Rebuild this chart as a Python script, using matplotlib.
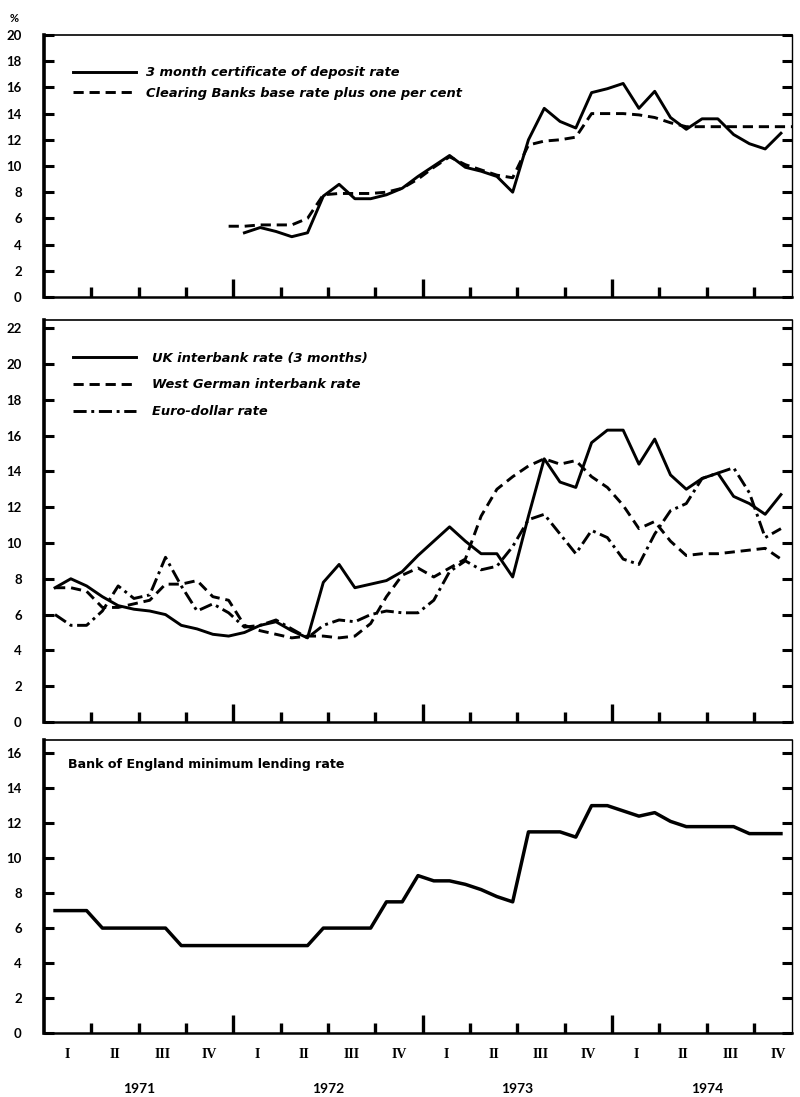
import numpy as np
import matplotlib.pyplot as plt

plt.rcParams['font.family'] = ['Lato', 'DejaVu Sans']

# monthly observations, Jan 1971 (index 0) .. Nov 1974 (index 46)
months = np.arange(47)
obs_offset = 0.7   # observations are taken late in each month

# top panel, from Jan 1972 / Dec 1971
cd_rate = [4.9, 5.3, 5.0, 4.6, 4.9, 7.7, 8.6, 7.5, 7.5, 7.8, 8.3, 9.2, 10.0, 10.8, 9.9,
           9.6, 9.2, 8.0, 12.0, 14.4, 13.4, 12.9, 15.6, 15.9, 16.3, 14.4, 15.7, 13.7,
           12.8, 13.6, 13.6, 12.4, 11.7, 11.3, 12.5]
cd_start = 12
base_plus_one = [5.4, 5.4, 5.5, 5.5, 5.5, 6.0, 7.8, 7.9, 7.9, 7.9, 8.0, 8.3, 9.0, 9.9,
                 10.7, 10.1, 9.7, 9.3, 9.1, 11.6, 11.9, 12.0, 12.2, 14.0, 14.0, 14.0,
                 13.9, 13.7, 13.3, 13.0, 13.0, 13.0, 13.0, 13.0, 13.0, 13.0, 13.0]
base_start = 11

# middle panel
uk_interbank = [7.5, 8.0, 7.6, 7.0, 6.5, 6.3, 6.2, 6.0, 5.4, 5.2, 4.9, 4.8, 5.0, 5.4,
                5.6, 5.1, 4.7, 7.8, 8.8, 7.5, 7.7, 7.9, 8.4, 9.3, 10.1, 10.9, 10.1, 9.4,
                9.4, 8.1, 11.5, 14.7, 13.4, 13.1, 15.6, 16.3, 16.3, 14.4, 15.8, 13.8,
                13.0, 13.6, 13.9, 12.6, 12.2, 11.6, 12.7]
west_german = [7.5, 7.5, 7.3, 6.4, 6.4, 6.6, 6.8, 7.7, 7.7, 7.9, 7.0, 6.8, 5.4, 5.1,
               4.9, 4.7, 4.8, 4.8, 4.7, 4.8, 5.5, 7.0, 8.2, 8.6, 8.1, 8.6, 9.1, 11.5,
               13.0, 13.7, 14.3, 14.7, 14.4, 14.6, 13.7, 13.1, 12.1, 10.8, 11.2, 10.1,
               9.3, 9.4, 9.4, 9.5, 9.6, 9.7, 9.1]
euro_dollar = [6.0, 5.4, 5.4, 6.2, 7.6, 6.9, 7.1, 9.2, 7.6, 6.2, 6.6, 6.1, 5.3, 5.4,
               5.7, 5.2, 4.7, 5.4, 5.7, 5.6, 6.0, 6.2, 6.1, 6.1, 6.8, 8.4, 9.0, 8.5,
               8.7, 9.8, 11.3, 11.6, 10.5, 9.4, 10.7, 10.3, 9.1, 8.8, 10.5, 11.8, 12.2,
               13.6, 13.9, 14.2, 12.8, 10.3, 10.8]

# bottom panel
mlr = [7.0, 7.0, 7.0, 6.0, 6.0, 6.0, 6.0, 6.0, 5.0, 5.0, 5.0, 5.0, 5.0, 5.0, 5.0, 5.0,
       5.0, 6.0, 6.0, 6.0, 6.0, 7.5, 7.5, 9.0, 8.7, 8.7, 8.5, 8.2, 7.8, 7.5, 11.5, 11.5,
       11.5, 11.2, 13.0, 13.0, 12.7, 12.4, 12.6, 12.1, 11.8, 11.8, 11.8, 11.8, 11.4,
       11.4, 11.4]

years = ['1971', '1972', '1973', '1974']
quarters = ['I', 'II', 'III', 'IV']

t = months + obs_offset
t_cd = np.arange(cd_start, cd_start + len(cd_rate)) + obs_offset
t_base = np.arange(base_start, base_start + len(base_plus_one)) + obs_offset

DASHED = (0, (3.5, 2.0))
DASHDOT = (0, (4.5, 1.6, 1.0, 1.6))
LW = 2.1
legend_font = {'family': 'DejaVu Sans', 'style': 'italic', 'weight': 'bold', 'size': 9.4}

fig = plt.figure(figsize=(8, 10.97), dpi=100)
ax_top = fig.add_axes([0.055, 0.7293, 0.935, 0.2388])
ax_mid = fig.add_axes([0.055, 0.3418, 0.935, 0.3665])
ax_bot = fig.add_axes([0.055, 0.0583, 0.935, 0.2671])


def style(ax, ymax, ytop):
    ax.set_xlim(0, 47.4)
    ax.set_ylim(0, ytop)
    ax.set_yticks(np.arange(0, ymax + 1, 2))
    ax.tick_params(axis='y', direction='in', length=7, width=2.2, left=True, right=True,
                   labelsize=9.5, pad=16)
    for lab in ax.get_yticklabels():
        lab.set_fontweight('bold')
    ax.set_xticks([12, 24, 36])
    ax.set_xticks([q for q in range(3, 47, 3) if q % 12], minor=True)
    ax.tick_params(axis='x', which='major', direction='in', length=13, width=2.4,
                   labelbottom=False)
    ax.tick_params(axis='x', which='minor', direction='in', length=7, width=2.4)
    ax.spines['left'].set_linewidth(2.6)
    ax.spines['bottom'].set_linewidth(1.8)
    ax.spines['top'].set_linewidth(1.2)
    ax.spines['right'].set_linewidth(1.0)


style(ax_top, 20, 20)
style(ax_mid, 22, 22.45)
style(ax_bot, 16, 16.75)

# top panel
ax_top.plot(t_cd, cd_rate, color='black', lw=LW, label='3 month certificate of deposit rate')
ax_top.plot(t_base, base_plus_one, color='black', lw=LW, ls=DASHED,
            label='Clearing Banks base rate plus one per cent')
ax_top.legend(loc='upper left', bbox_to_anchor=(0.039, 0.88), frameon=False,
              borderpad=0, borderaxespad=0, handlelength=4.8, handletextpad=0.75,
              labelspacing=0.55, prop=legend_font)

# middle panel
ax_mid.plot(t, uk_interbank, color='black', lw=LW, label='UK interbank rate (3 months)')
ax_mid.plot(t, west_german, color='black', lw=LW, ls=DASHED, label='West German interbank rate')
ax_mid.plot(t, euro_dollar, color='black', lw=LW, ls=DASHDOT, label='Euro-dollar rate')
ax_mid.legend(loc='upper left', bbox_to_anchor=(0.039, 0.921), frameon=False,
              borderpad=0, borderaxespad=0, handlelength=4.8, handletextpad=1.2,
              labelspacing=1.05, prop=legend_font)

# bottom panel
ax_bot.plot(t, mlr, color='black', lw=2.5)
ax_bot.text(0.032, 0.915, 'Bank of England minimum lending rate', transform=ax_bot.transAxes,
            fontsize=9.05, fontweight='bold', family='DejaVu Sans', va='center', ha='left')

sec = ax_bot.secondary_xaxis('bottom')
sec.set_xticks(np.arange(1.5, 48, 3), labels=quarters * 4)
sec.tick_params(length=0, pad=11, labelsize=10)
for lab in sec.get_xticklabels():
    lab.set_family('Liberation Serif')
    lab.set_fontweight('bold')
sec.spines['bottom'].set_visible(False)

for i, yr in enumerate(years):
    ax_bot.annotate(yr, xy=(12 * i + 6, 0), xycoords=('data', 'axes fraction'),
                    xytext=(0, -40), textcoords='offset points', ha='center', va='center',
                    fontsize=10, fontweight='bold')

fig.text(0.012, 0.988, '%', fontsize=8, fontweight='bold', va='top')

fig.savefig('out.png', dpi=100, facecolor='white')
